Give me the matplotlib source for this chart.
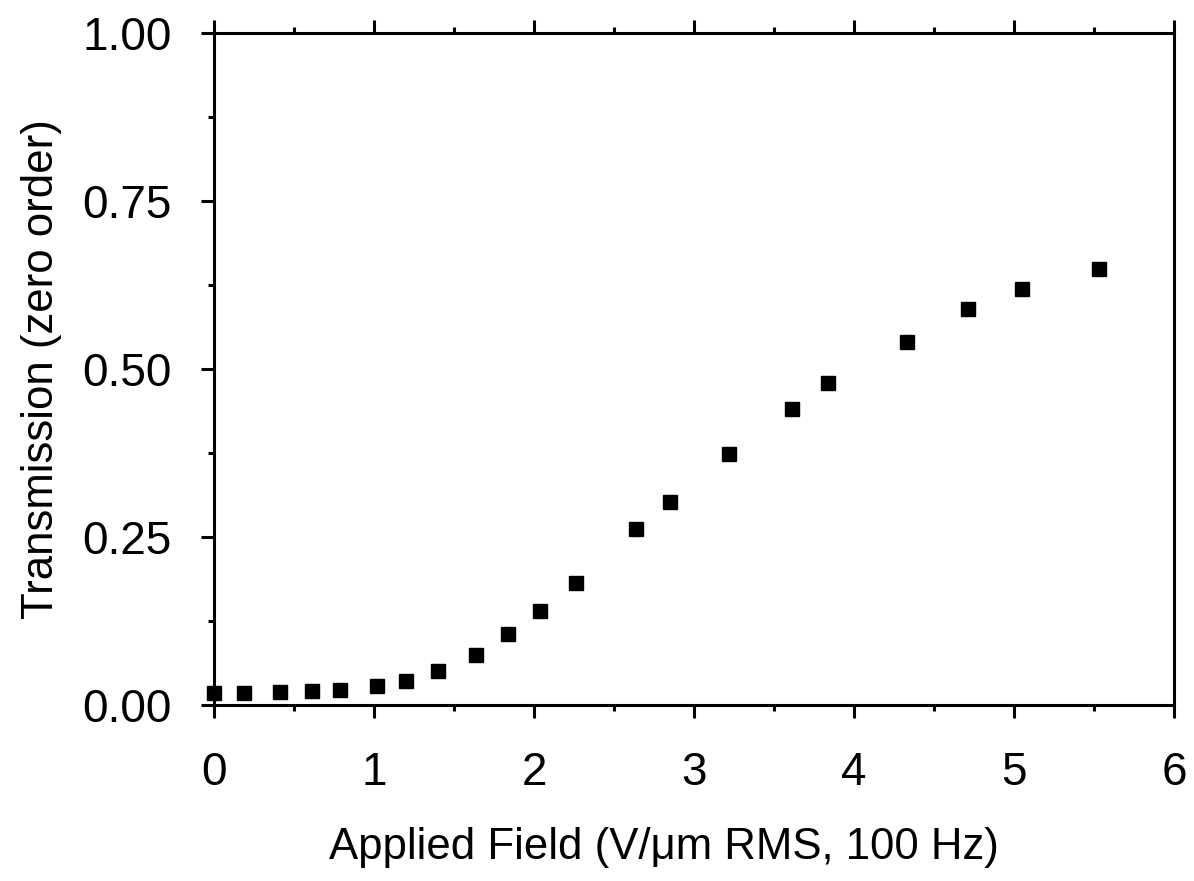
import numpy as np
import matplotlib.pyplot as plt
from matplotlib.ticker import MultipleLocator

# Applied field (V/um RMS, 100 Hz) and zero-order transmission
field = [0.00, 0.19, 0.41, 0.61, 0.79, 1.02, 1.20, 1.40, 1.64, 1.84, 2.04,
         2.26, 2.64, 2.85, 3.22, 3.61, 3.84, 4.33, 4.71, 5.05, 5.53]
transmission = [0.018, 0.018, 0.019, 0.021, 0.022, 0.028, 0.036, 0.051,
                0.074, 0.106, 0.140, 0.182, 0.262, 0.302, 0.374, 0.440,
                0.479, 0.540, 0.589, 0.619, 0.649]


def main():
  plt.rcParams['font.family'] = ['Liberation Sans', 'DejaVu Sans']

  fig = plt.figure(figsize=(11.94, 8.81), dpi=100)
  ax = fig.add_axes([0.1792, 0.2, 0.804, 0.7625])

  ax.plot(field, transmission, linestyle='none', marker='s',
          markersize=10, color='black', clip_on=False)

  ax.set_xlim(0, 6)
  ax.set_ylim(0, 1)
  ax.xaxis.set_major_locator(MultipleLocator(1))
  ax.xaxis.set_minor_locator(MultipleLocator(0.5))
  ax.yaxis.set_major_locator(MultipleLocator(0.25))
  ax.yaxis.set_minor_locator(MultipleLocator(0.125))
  ax.yaxis.set_major_formatter(lambda v, pos: f'{v:.2f}')

  for s in ax.spines.values():
    s.set_linewidth(2.2)

  ax.tick_params(which='both', direction='out', width=2.2,
                 top=True, right=False, labelsize=33)
  ax.tick_params(axis='x', pad=24)
  ax.tick_params(axis='y', pad=21)
  ax.tick_params(which='major', length=9.5)
  ax.tick_params(which='minor', length=4.5)

  ax.set_xlabel('Applied Field (V/\u03bcm RMS, 100 Hz)', fontsize=31.5)
  ax.set_ylabel('Transmission (zero order)', fontsize=31.5)
  ax.xaxis.set_label_coords(0.469, -0.182)
  ax.yaxis.set_label_coords(-0.158, 0.5)

  fig.savefig('out.png', dpi=100)


if __name__ == '__main__':
  main()
